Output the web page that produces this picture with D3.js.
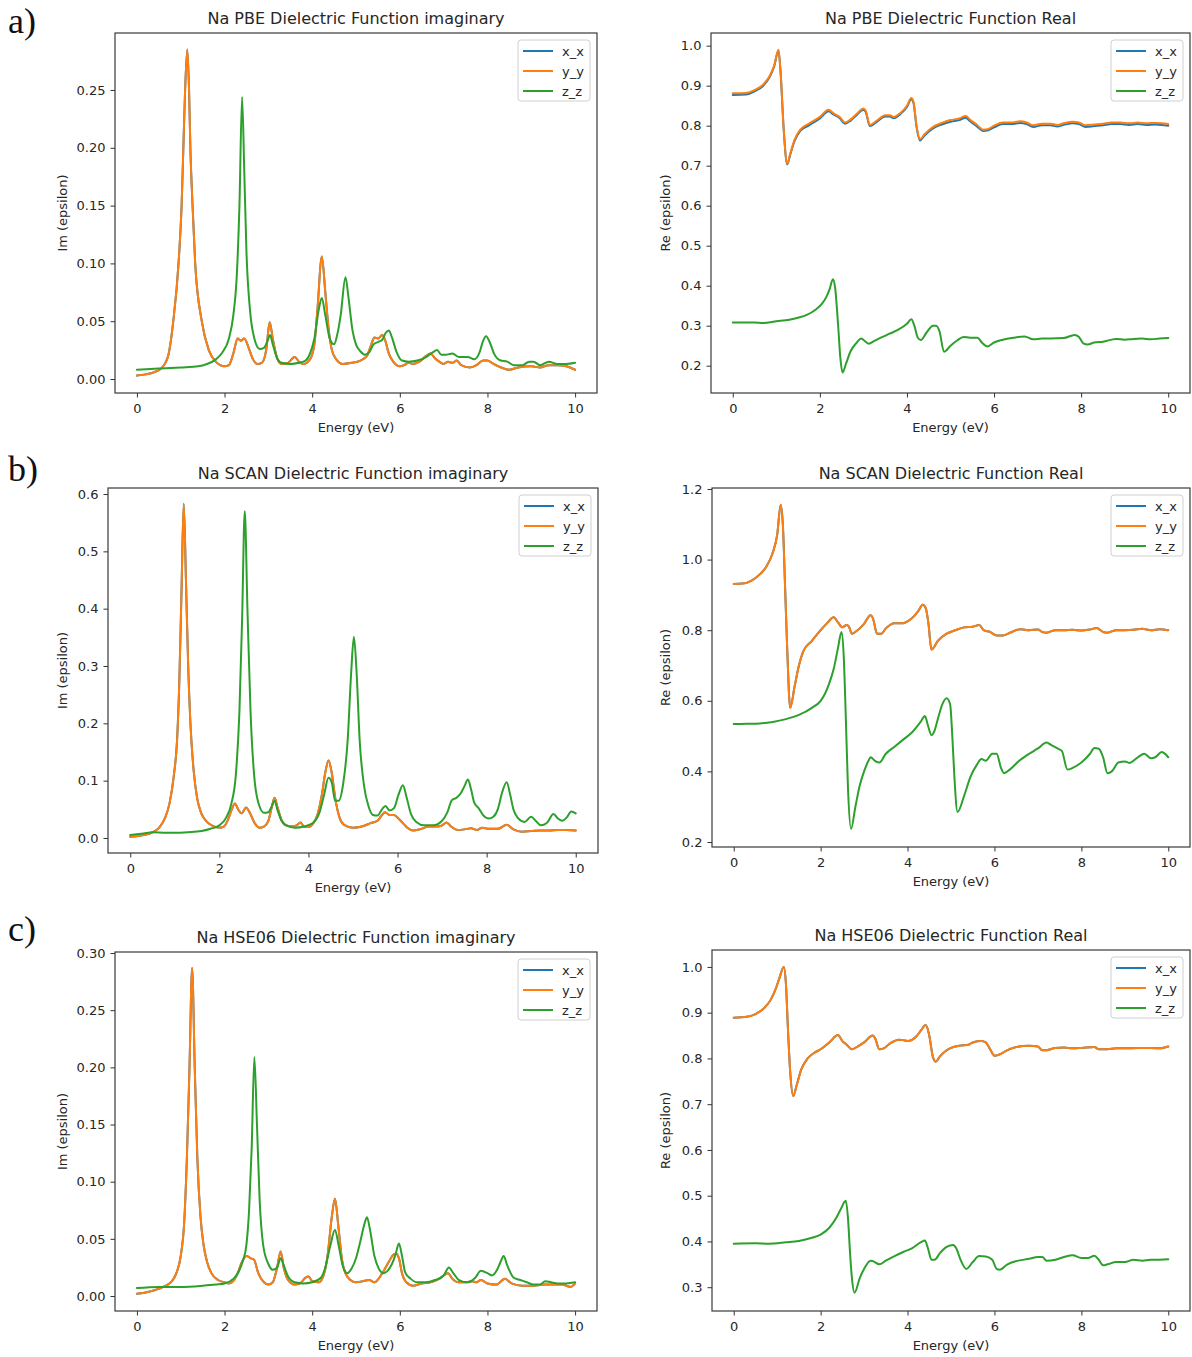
<!DOCTYPE html>
<html><head><meta charset="utf-8">
<script src="https://cdn.jsdelivr.net/npm/d3@7"></script>
<style>
body{margin:0;background:#fff}
svg{display:block}
text{font-family:"DejaVu Sans",sans-serif;fill:#262626}
</style>
</head><body>
<svg id="fig" width="1192" height="1357"></svg>
<script>
// ---------- labels / ticks ----------
const seriesNames = ["x_x", "y_y", "z_z"];
const seriesColors = ["#1f77b4", "#ff7f0e", "#2ca02c"];
const energyTicks = [0, 2, 4, 6, 8, 10];
const ticksPbeIm = [0, 0.05, 0.10, 0.15, 0.20, 0.25];
const ticksPbeRe = [0.2, 0.3, 0.4, 0.5, 0.6, 0.7, 0.8, 0.9, 1.0];
const ticksScanIm = [0, 0.1, 0.2, 0.3, 0.4, 0.5, 0.6];
const ticksScanRe = [0.2, 0.4, 0.6, 0.8, 1.0, 1.2];
const ticksHseIm = [0, 0.05, 0.10, 0.15, 0.20, 0.25, 0.30];
const ticksHseRe = [0.3, 0.4, 0.5, 0.6, 0.7, 0.8, 0.9, 1.0];

// ---------- data: [energy (eV), value] ----------
const pbeImYY = [[0,0.003],[0.2,0.004],[0.4,0.006],[0.55,0.009],[0.65,0.014],[0.72,0.021],[0.83,0.05],[0.95,0.10],[1.02,0.15],[1.06,0.2],[1.1,0.25],[1.15,0.285],[1.19,0.25],[1.22,0.2],[1.27,0.15],[1.33,0.10],[1.48,0.05],[1.64,0.025],[1.8,0.015],[2.0,0.011],[2.1,0.012],[2.2,0.022],[2.3,0.035],[2.37,0.033],[2.45,0.035],[2.55,0.027],[2.65,0.017],[2.75,0.013],[2.85,0.014],[2.95,0.025],[3.03,0.049],[3.1,0.035],[3.2,0.018],[3.3,0.013],[3.45,0.014],[3.6,0.019],[3.7,0.015],[3.8,0.013],[3.95,0.017],[4.05,0.03],[4.12,0.06],[4.22,0.106],[4.3,0.075],[4.37,0.045],[4.45,0.025],[4.55,0.017],[4.7,0.013],[4.9,0.014],[5.1,0.016],[5.25,0.02],[5.35,0.03],[5.42,0.036],[5.5,0.035],[5.6,0.038],[5.66,0.034],[5.75,0.022],[5.85,0.015],[6.0,0.011],[6.1,0.012],[6.2,0.014],[6.3,0.013],[6.45,0.015],[6.6,0.02],[6.7,0.022],[6.8,0.018],[6.9,0.015],[7.0,0.013],[7.1,0.015],[7.2,0.014],[7.3,0.016],[7.4,0.012],[7.6,0.010],[7.75,0.012],[7.9,0.016],[8.0,0.016],[8.1,0.014],[8.25,0.011],[8.5,0.008],[8.7,0.01],[9.0,0.011],[9.2,0.010],[9.4,0.012],[9.6,0.012],[9.8,0.011],[10,0.008]];
const pbeImXX = pbeImYY; // x_x coincides with y_y in the picture
const pbeImZZ = [[0,0.008],[0.5,0.009],[1.0,0.010],[1.4,0.011],[1.6,0.013],[1.8,0.017],[1.95,0.023],[2.1,0.035],[2.2,0.055],[2.28,0.09],[2.34,0.15],[2.4,0.244],[2.45,0.18],[2.5,0.11],[2.58,0.06],[2.68,0.035],[2.8,0.026],[2.9,0.027],[2.98,0.033],[3.04,0.038],[3.1,0.03],[3.2,0.018],[3.3,0.014],[3.5,0.013],[3.7,0.014],[3.85,0.016],[3.95,0.022],[4.05,0.035],[4.15,0.06],[4.22,0.07],[4.3,0.055],[4.4,0.035],[4.5,0.03],[4.57,0.038],[4.65,0.055],[4.76,0.088],[4.83,0.07],[4.92,0.042],[5.0,0.03],[5.1,0.024],[5.2,0.021],[5.3,0.023],[5.4,0.03],[5.5,0.032],[5.6,0.034],[5.68,0.04],[5.75,0.042],[5.82,0.036],[5.92,0.024],[6.05,0.016],[6.2,0.015],[6.4,0.016],[6.6,0.019],[6.75,0.023],[6.85,0.025],[6.95,0.021],[7.05,0.021],[7.2,0.022],[7.35,0.019],[7.55,0.019],[7.7,0.017],[7.82,0.023],[7.9,0.033],[7.97,0.037],[8.05,0.032],[8.15,0.022],[8.3,0.016],[8.45,0.015],[8.6,0.012],[8.8,0.012],[8.95,0.015],[9.05,0.015],[9.2,0.012],[9.4,0.015],[9.6,0.013],[9.8,0.013],[10,0.014]];

const pbeReXX = [[0,0.877],[0.3,0.878],[0.5,0.886],[0.7,0.9],[0.85,0.922],[0.95,0.948],[1.05,0.988],[1.1,0.93],[1.17,0.79],[1.25,0.703],[1.32,0.728],[1.42,0.762],[1.55,0.787],[1.75,0.801],[2.0,0.818],[2.2,0.836],[2.3,0.829],[2.45,0.819],[2.58,0.805],[2.7,0.812],[2.85,0.827],[3.0,0.84],[3.05,0.835],[3.15,0.799],[3.3,0.809],[3.5,0.823],[3.6,0.823],[3.7,0.819],[3.85,0.829],[4.0,0.847],[4.1,0.866],[4.15,0.857],[4.22,0.797],[4.3,0.763],[4.4,0.775],[4.6,0.793],[4.8,0.803],[5.0,0.81],[5.2,0.814],[5.35,0.82],[5.45,0.811],[5.6,0.799],[5.75,0.787],[5.85,0.788],[6.0,0.796],[6.2,0.804],[6.4,0.804],[6.6,0.807],[6.75,0.804],[6.9,0.797],[7.1,0.801],[7.3,0.801],[7.45,0.798],[7.6,0.802],[7.8,0.806],[7.95,0.804],[8.1,0.797],[8.3,0.799],[8.5,0.801],[8.7,0.804],[8.9,0.804],[9.1,0.802],[9.3,0.804],[9.5,0.802],[9.7,0.803],[9.85,0.802],[10,0.8]];
const pbeReYY = [[0,0.881],[0.3,0.882],[0.5,0.889],[0.7,0.903],[0.85,0.925],[0.95,0.95],[1.05,0.99],[1.1,0.93],[1.17,0.79],[1.25,0.705],[1.32,0.73],[1.42,0.765],[1.55,0.79],[1.75,0.805],[2.0,0.822],[2.2,0.84],[2.3,0.832],[2.45,0.822],[2.58,0.808],[2.7,0.815],[2.85,0.83],[3.0,0.843],[3.05,0.838],[3.15,0.802],[3.3,0.812],[3.5,0.826],[3.6,0.826],[3.7,0.822],[3.85,0.832],[4.0,0.85],[4.1,0.869],[4.15,0.86],[4.22,0.8],[4.3,0.766],[4.4,0.778],[4.6,0.797],[4.8,0.807],[5.0,0.814],[5.2,0.818],[5.35,0.824],[5.45,0.815],[5.6,0.803],[5.75,0.79],[5.85,0.791],[6.0,0.8],[6.2,0.808],[6.4,0.808],[6.6,0.811],[6.75,0.808],[6.9,0.801],[7.1,0.805],[7.3,0.805],[7.45,0.802],[7.6,0.806],[7.8,0.81],[7.95,0.808],[8.1,0.801],[8.3,0.803],[8.5,0.805],[8.7,0.808],[8.9,0.808],[9.1,0.806],[9.3,0.808],[9.5,0.806],[9.7,0.807],[9.85,0.806],[10,0.804]];
const pbeReZZ = [[0,0.308],[0.5,0.308],[0.7,0.307],[1.0,0.311],[1.3,0.315],[1.5,0.32],[1.7,0.327],[1.9,0.34],[2.05,0.355],[2.15,0.372],[2.22,0.39],[2.3,0.416],[2.35,0.395],[2.42,0.3],[2.47,0.22],[2.52,0.183],[2.6,0.205],[2.7,0.235],[2.85,0.258],[2.95,0.268],[3.05,0.26],[3.12,0.255],[3.25,0.262],[3.4,0.27],[3.6,0.28],[3.8,0.29],[4.0,0.305],[4.1,0.316],[4.17,0.3],[4.25,0.27],[4.32,0.264],[4.45,0.283],[4.6,0.3],[4.67,0.3],[4.75,0.285],[4.85,0.235],[5.0,0.25],[5.15,0.263],[5.3,0.272],[5.45,0.27],[5.62,0.27],[5.72,0.258],[5.85,0.248],[6.0,0.258],[6.2,0.265],[6.45,0.27],[6.7,0.273],[6.9,0.266],[7.1,0.268],[7.3,0.268],[7.6,0.269],[7.85,0.277],[7.95,0.272],[8.05,0.256],[8.15,0.253],[8.3,0.258],[8.5,0.26],[8.8,0.267],[9.0,0.265],[9.2,0.267],[9.4,0.268],[9.6,0.266],[9.8,0.268],[10,0.269]];

const scanImYY = [[0,0.002],[0.3,0.005],[0.5,0.01],[0.65,0.018],[0.78,0.035],[0.88,0.06],[0.98,0.11],[1.05,0.17],[1.1,0.27],[1.15,0.43],[1.2,0.583],[1.25,0.45],[1.3,0.3],[1.35,0.2],[1.42,0.12],[1.5,0.07],[1.6,0.042],[1.7,0.03],[1.85,0.021],[2.0,0.018],[2.1,0.02],[2.2,0.033],[2.28,0.05],[2.35,0.06],[2.42,0.05],[2.5,0.043],[2.6,0.053],[2.67,0.046],[2.8,0.025],[2.9,0.018],[3.0,0.02],[3.1,0.03],[3.18,0.055],[3.24,0.07],[3.3,0.055],[3.4,0.03],[3.5,0.022],[3.65,0.02],[3.75,0.023],[3.82,0.027],[3.9,0.02],[4.0,0.019],[4.1,0.025],[4.2,0.04],[4.3,0.075],[4.38,0.115],[4.45,0.135],[4.52,0.115],[4.6,0.07],[4.7,0.035],[4.8,0.023],[5.0,0.018],[5.2,0.02],[5.4,0.026],[5.55,0.03],[5.65,0.04],[5.72,0.045],[5.82,0.04],[5.92,0.04],[6.02,0.034],[6.12,0.026],[6.22,0.018],[6.35,0.013],[6.5,0.015],[6.7,0.02],[6.9,0.02],[7.0,0.022],[7.1,0.027],[7.2,0.02],[7.35,0.014],[7.5,0.015],[7.65,0.017],[7.78,0.014],[7.9,0.018],[8.05,0.016],[8.25,0.016],[8.45,0.023],[8.6,0.015],[8.8,0.011],[9.0,0.012],[9.2,0.013],[9.4,0.013],[9.6,0.014],[9.8,0.014],[10,0.013]];
const scanImXX = scanImYY;
const scanImZZ = [[0,0.005],[0.3,0.008],[0.5,0.01],[0.8,0.009],[1.0,0.009],[1.3,0.01],[1.6,0.012],[1.8,0.016],[2.0,0.022],[2.15,0.035],[2.27,0.06],[2.37,0.11],[2.45,0.22],[2.51,0.38],[2.57,0.57],[2.63,0.4],[2.7,0.22],[2.78,0.11],[2.88,0.06],[3.0,0.044],[3.1,0.045],[3.18,0.056],[3.24,0.065],[3.3,0.05],[3.4,0.03],[3.5,0.022],[3.7,0.018],[3.9,0.02],[4.1,0.026],[4.25,0.045],[4.35,0.075],[4.45,0.105],[4.52,0.098],[4.6,0.065],[4.68,0.065],[4.78,0.095],[4.88,0.17],[4.96,0.29],[5.02,0.351],[5.08,0.29],[5.15,0.17],[5.25,0.09],[5.35,0.055],[5.45,0.04],[5.55,0.039],[5.65,0.05],[5.73,0.056],[5.82,0.048],[5.92,0.052],[6.02,0.075],[6.12,0.092],[6.2,0.072],[6.3,0.042],[6.42,0.028],[6.6,0.022],[6.8,0.022],[7.0,0.03],[7.12,0.045],[7.22,0.066],[7.32,0.07],[7.42,0.078],[7.5,0.09],[7.58,0.102],[7.65,0.085],[7.72,0.062],[7.82,0.052],[7.92,0.04],[8.05,0.034],[8.15,0.037],[8.25,0.05],[8.35,0.08],[8.45,0.097],[8.53,0.075],[8.6,0.05],[8.7,0.035],[8.85,0.028],[9.0,0.037],[9.1,0.03],[9.22,0.022],[9.35,0.026],[9.5,0.042],[9.6,0.034],[9.7,0.03],[9.8,0.036],[9.9,0.046],[10,0.043]];

const scanReYY = [[0,0.931],[0.2,0.932],[0.4,0.94],[0.6,0.958],[0.75,0.98],[0.9,1.02],[1.0,1.07],[1.08,1.155],[1.13,1.1],[1.18,0.93],[1.23,0.75],[1.3,0.58],[1.4,0.64],[1.5,0.7],[1.6,0.74],[1.8,0.77],[2.0,0.8],[2.15,0.82],[2.3,0.837],[2.4,0.822],[2.5,0.808],[2.6,0.815],[2.65,0.81],[2.72,0.79],[2.82,0.797],[3.0,0.818],[3.15,0.842],[3.2,0.835],[3.3,0.79],[3.4,0.79],[3.5,0.805],[3.7,0.82],[3.9,0.82],[4.0,0.825],[4.15,0.84],[4.25,0.855],[4.35,0.872],[4.42,0.862],[4.48,0.82],[4.55,0.745],[4.7,0.77],[4.9,0.79],[5.1,0.8],[5.3,0.808],[5.5,0.81],[5.65,0.815],[5.75,0.8],[5.9,0.795],[6.05,0.785],[6.2,0.785],[6.4,0.795],[6.6,0.803],[6.8,0.8],[7.0,0.802],[7.1,0.795],[7.2,0.793],[7.4,0.8],[7.6,0.8],[7.8,0.801],[8.0,0.799],[8.2,0.802],[8.35,0.806],[8.5,0.795],[8.6,0.793],[8.8,0.8],[9.0,0.8],[9.2,0.801],[9.4,0.804],[9.6,0.8],[9.8,0.803],[10,0.8]];
const scanReXX = scanReYY;
const scanReZZ = [[0,0.534],[0.3,0.535],[0.6,0.536],[0.9,0.54],[1.2,0.548],[1.5,0.56],[1.8,0.58],[2.0,0.6],[2.1,0.62],[2.2,0.65],[2.3,0.69],[2.4,0.75],[2.48,0.795],[2.53,0.73],[2.58,0.55],[2.63,0.35],[2.7,0.237],[2.8,0.3],[2.9,0.36],[3.0,0.4],[3.1,0.43],[3.15,0.44],[3.25,0.43],[3.35,0.425],[3.5,0.45],[3.7,0.47],[3.9,0.49],[4.1,0.51],[4.3,0.54],[4.4,0.557],[4.47,0.53],[4.55,0.503],[4.62,0.515],[4.7,0.55],[4.8,0.59],[4.9,0.607],[4.98,0.59],[5.03,0.5],[5.08,0.38],[5.15,0.285],[5.3,0.33],[5.45,0.385],[5.6,0.42],[5.7,0.435],[5.8,0.43],[5.95,0.45],[6.05,0.45],[6.15,0.41],[6.22,0.395],[6.35,0.405],[6.55,0.428],[6.8,0.45],[7.0,0.465],[7.2,0.482],[7.3,0.475],[7.45,0.465],[7.55,0.458],[7.68,0.405],[7.8,0.41],[8.0,0.425],[8.2,0.45],[8.3,0.466],[8.4,0.464],[8.5,0.44],[8.6,0.395],[8.7,0.4],[8.85,0.425],[9.0,0.428],[9.1,0.424],[9.3,0.44],[9.45,0.45],[9.6,0.437],[9.7,0.44],[9.85,0.455],[9.95,0.447],[10,0.44]];

const hseImYY = [[0,0.002],[0.3,0.004],[0.6,0.008],[0.8,0.013],[0.9,0.02],[1.0,0.035],[1.08,0.065],[1.14,0.12],[1.2,0.2],[1.26,0.287],[1.32,0.2],[1.38,0.12],[1.45,0.07],[1.52,0.045],[1.6,0.03],[1.7,0.02],[1.85,0.014],[2.0,0.012],[2.1,0.011],[2.2,0.013],[2.3,0.02],[2.4,0.03],[2.5,0.035],[2.6,0.033],[2.67,0.032],[2.77,0.02],[2.9,0.012],[3.0,0.01],[3.1,0.012],[3.2,0.025],[3.28,0.039],[3.35,0.025],[3.45,0.014],[3.6,0.01],[3.72,0.011],[3.85,0.016],[3.92,0.017],[4.0,0.013],[4.15,0.012],[4.25,0.017],[4.35,0.035],[4.45,0.07],[4.52,0.085],[4.6,0.06],[4.68,0.032],[4.8,0.017],[5.0,0.012],[5.15,0.013],[5.3,0.014],[5.42,0.012],[5.6,0.02],[5.75,0.03],[5.85,0.036],[5.92,0.037],[5.98,0.033],[6.05,0.02],[6.15,0.012],[6.3,0.009],[6.5,0.011],[6.7,0.012],[6.9,0.015],[7.1,0.02],[7.2,0.015],[7.35,0.012],[7.5,0.012],[7.65,0.013],[7.75,0.012],[7.85,0.014],[8.0,0.011],[8.2,0.01],[8.4,0.015],[8.55,0.011],[8.8,0.009],[9.0,0.009],[9.3,0.01],[9.5,0.01],[9.7,0.01],[9.9,0.008],[10,0.011]];
const hseImXX = hseImYY;
const hseImZZ = [[0,0.007],[0.5,0.008],[1.0,0.008],[1.5,0.009],[1.8,0.01],[2.0,0.011],[2.2,0.015],[2.32,0.021],[2.42,0.031],[2.5,0.045],[2.56,0.075],[2.62,0.13],[2.68,0.209],[2.74,0.15],[2.8,0.085],[2.88,0.045],[3.0,0.028],[3.1,0.023],[3.2,0.025],[3.28,0.033],[3.35,0.027],[3.45,0.017],[3.6,0.012],[3.8,0.011],[4.0,0.012],[4.2,0.016],[4.3,0.025],[4.42,0.045],[4.52,0.058],[4.6,0.045],[4.7,0.026],[4.8,0.02],[4.9,0.024],[5.0,0.033],[5.1,0.048],[5.2,0.064],[5.25,0.069],[5.32,0.058],[5.42,0.035],[5.52,0.024],[5.62,0.02],[5.72,0.022],[5.82,0.028],[5.9,0.036],[5.98,0.046],[6.05,0.035],[6.12,0.021],[6.25,0.015],[6.4,0.012],[6.6,0.012],[6.8,0.014],[7.0,0.018],[7.12,0.025],[7.22,0.02],[7.35,0.014],[7.55,0.012],[7.72,0.016],[7.85,0.022],[8.0,0.02],[8.1,0.018],[8.22,0.023],[8.3,0.03],[8.37,0.035],[8.45,0.027],[8.6,0.016],[8.75,0.014],[8.9,0.012],[9.05,0.01],[9.2,0.01],[9.32,0.013],[9.45,0.012],[9.6,0.011],[9.8,0.011],[10,0.012]];

const hseReYY = [[0,0.889],[0.3,0.891],[0.5,0.897],[0.7,0.91],[0.85,0.928],[0.95,0.948],[1.05,0.975],[1.15,1.0],[1.2,0.965],[1.25,0.86],[1.3,0.77],[1.37,0.718],[1.45,0.742],[1.55,0.775],[1.7,0.8],[1.85,0.812],[2.0,0.82],[2.2,0.835],[2.4,0.851],[2.5,0.838],[2.6,0.83],[2.72,0.82],[2.85,0.826],[3.0,0.835],[3.2,0.85],[3.25,0.845],[3.35,0.82],[3.45,0.822],[3.6,0.833],[3.8,0.841],[3.9,0.84],[4.0,0.838],[4.2,0.848],[4.3,0.86],[4.42,0.873],[4.5,0.85],[4.58,0.805],[4.65,0.793],[4.75,0.805],[4.9,0.818],[5.0,0.823],[5.2,0.828],[5.4,0.83],[5.5,0.835],[5.7,0.838],[5.8,0.835],[5.9,0.82],[6.0,0.806],[6.1,0.808],[6.3,0.818],[6.5,0.825],[6.8,0.828],[7.0,0.826],[7.1,0.818],[7.2,0.818],[7.4,0.823],[7.6,0.824],[7.8,0.822],[8.0,0.823],[8.3,0.825],[8.4,0.82],[8.6,0.82],[8.8,0.822],[9.0,0.822],[9.3,0.823],[9.6,0.823],[9.8,0.822],[10,0.826]];
const hseReXX = hseReYY;
const hseReZZ = [[0,0.395],[0.5,0.396],[0.8,0.395],[1.2,0.398],[1.5,0.401],[1.8,0.408],[2.0,0.415],[2.2,0.43],[2.35,0.45],[2.45,0.468],[2.58,0.489],[2.63,0.45],[2.68,0.37],[2.72,0.32],[2.78,0.288],[2.9,0.32],[3.0,0.34],[3.15,0.358],[3.2,0.357],[3.35,0.35],[3.5,0.358],[3.7,0.368],[3.9,0.377],[4.1,0.385],[4.3,0.398],[4.4,0.402],[4.47,0.385],[4.55,0.36],[4.62,0.36],[4.75,0.375],[4.9,0.388],[5.05,0.392],[5.12,0.385],[5.22,0.36],[5.35,0.34],[5.5,0.355],[5.65,0.368],[5.8,0.367],[5.95,0.36],[6.05,0.34],[6.12,0.338],[6.3,0.35],[6.5,0.357],[6.8,0.362],[7.0,0.366],[7.1,0.366],[7.2,0.358],[7.4,0.36],[7.6,0.366],[7.8,0.37],[8.0,0.364],[8.15,0.364],[8.3,0.369],[8.4,0.36],[8.5,0.348],[8.6,0.35],[8.8,0.355],[9.0,0.355],[9.2,0.36],[9.4,0.358],[9.6,0.36],[9.8,0.36],[10,0.361]];

// ---------- layout ----------
const panels = [
  {title:"Na PBE Dielectric Function imaginary", ylab:"Im (epsilon)", series:[pbeImXX,pbeImYY,pbeImZZ], yt:ticksPbeIm, fmt:".2f", l:115, r:597, t:33, b:393, yd:[-0.0121,0.2993], ylx:62},
  {title:"Na PBE Dielectric Function Real", ylab:"Re (epsilon)", series:[pbeReXX,pbeReYY,pbeReZZ], yt:ticksPbeRe, fmt:".1f", l:711, r:1190, t:33, b:393, yd:[0.1318,1.0317], ylx:665},
  {title:"Na SCAN Dielectric Function imaginary", ylab:"Im (epsilon)", series:[scanImXX,scanImYY,scanImZZ], yt:ticksScanIm, fmt:".1f", l:108, r:598, t:488, b:853, yd:[-0.0262,0.6105], ylx:62},
  {title:"Na SCAN Dielectric Function Real", ylab:"Re (epsilon)", series:[scanReXX,scanReYY,scanReZZ], yt:ticksScanRe, fmt:".1f", l:712, r:1190, t:488, b:847, yd:[0.1858,1.2028], ylx:665},
  {title:"Na HSE06 Dielectric Function imaginary", ylab:"Im (epsilon)", series:[hseImXX,hseImYY,hseImZZ], yt:ticksHseIm, fmt:".2f", l:115, r:597, t:952, b:1311, yd:[-0.0131,0.3009], ylx:62},
  {title:"Na HSE06 Dielectric Function Real", ylab:"Re (epsilon)", series:[hseReXX,hseReYY,hseReZZ], yt:ticksHseRe, fmt:".1f", l:712, r:1190, t:950, b:1311, yd:[0.248,1.037], ylx:665}
];
const panelLabels = [{text:"a)", y:33},{text:"b)", y:481},{text:"c)", y:941}];

const svg = d3.select("#fig");
svg.append("rect").attr("width",1192).attr("height",1357).attr("fill","#fff");

panels.forEach((p, i) => {
  const x = d3.scaleLinear().domain([-0.5, 10.5]).range([p.l, p.r]);
  const y = d3.scaleLinear().domain(p.yd).range([p.b, p.t]);
  const g = svg.append("g");

  const cid = "clip" + i;
  svg.append("clipPath").attr("id", cid).append("rect")
    .attr("x", p.l).attr("y", p.t).attr("width", p.r - p.l).attr("height", p.b - p.t);

  const line = d3.line().x(d => x(d[0])).y(d => y(d[1])).curve(d3.curveMonotoneX);
  const lg = g.append("g").attr("clip-path", `url(#${cid})`);
  p.series.forEach((s, k) => {
    lg.append("path").datum(s).attr("d", line)
      .attr("fill", "none").attr("stroke", seriesColors[k])
      .attr("stroke-width", 2).attr("stroke-linejoin", "round").attr("stroke-linecap","round");
  });

  // axes
  const xa = g.append("g").attr("transform", `translate(0,${p.b})`)
    .call(d3.axisBottom(x).tickValues(energyTicks).tickFormat(d3.format("d")).tickSize(4.5).tickPadding(6.5).tickSizeOuter(0));
  const ya = g.append("g").attr("transform", `translate(${p.l},0)`)
    .call(d3.axisLeft(y).tickValues(p.yt).tickFormat(d3.format(p.fmt)).tickSize(4.5).tickPadding(5).tickSizeOuter(0));
  [xa, ya].forEach(a => {
    a.select(".domain").remove();
    a.selectAll(".tick line").attr("stroke", "#333").attr("stroke-width", 1);
    a.selectAll(".tick text").attr("font-size", 13).attr("fill", "#262626")
      .style("font-family", '"DejaVu Sans", sans-serif');
  });
  g.append("rect").attr("x", p.l).attr("y", p.t).attr("width", p.r - p.l).attr("height", p.b - p.t)
    .attr("fill", "none").attr("stroke", "#3a3a3a").attr("stroke-width", 1.2);

  // titles and axis labels
  g.append("text").attr("x", (p.l + p.r) / 2).attr("y", p.t - 9.5).attr("text-anchor", "middle")
    .attr("font-size", 16).text(p.title);
  g.append("text").attr("x", (p.l + p.r) / 2).attr("y", p.b + 39).attr("text-anchor", "middle")
    .attr("font-size", 13).text("Energy (eV)");
  g.append("text").attr("transform", `translate(${p.ylx + 4.5},${(p.t + p.b) / 2}) rotate(-90)`)
    .attr("text-anchor", "middle").attr("font-size", 13).text(p.ylab);

  // legend
  const lx = p.r - 79, ly = p.t + 7;
  const leg = g.append("g");
  leg.append("rect").attr("x", lx).attr("y", ly).attr("width", 72).attr("height", 61).attr("rx", 3)
    .attr("fill", "#fff").attr("fill-opacity", 0.8).attr("stroke", "#d0d0d0").attr("stroke-width", 1);
  seriesNames.forEach((n, k) => {
    const cy = ly + 11 + k * 20;
    leg.append("line").attr("x1", lx + 5).attr("x2", lx + 35).attr("y1", cy).attr("y2", cy)
      .attr("stroke", seriesColors[k]).attr("stroke-width", 2);
    leg.append("text").attr("x", lx + 44).attr("y", cy + 4.5).attr("font-size", 13).text(n);
  });
});

panelLabels.forEach(d => {
  svg.append("text").attr("x", 8).attr("y", d.y).attr("font-size", 36)
    .style("font-family", '"Liberation Serif", "Times New Roman", serif').style("fill","#111").text(d.text);
});
</script>
</body></html>
